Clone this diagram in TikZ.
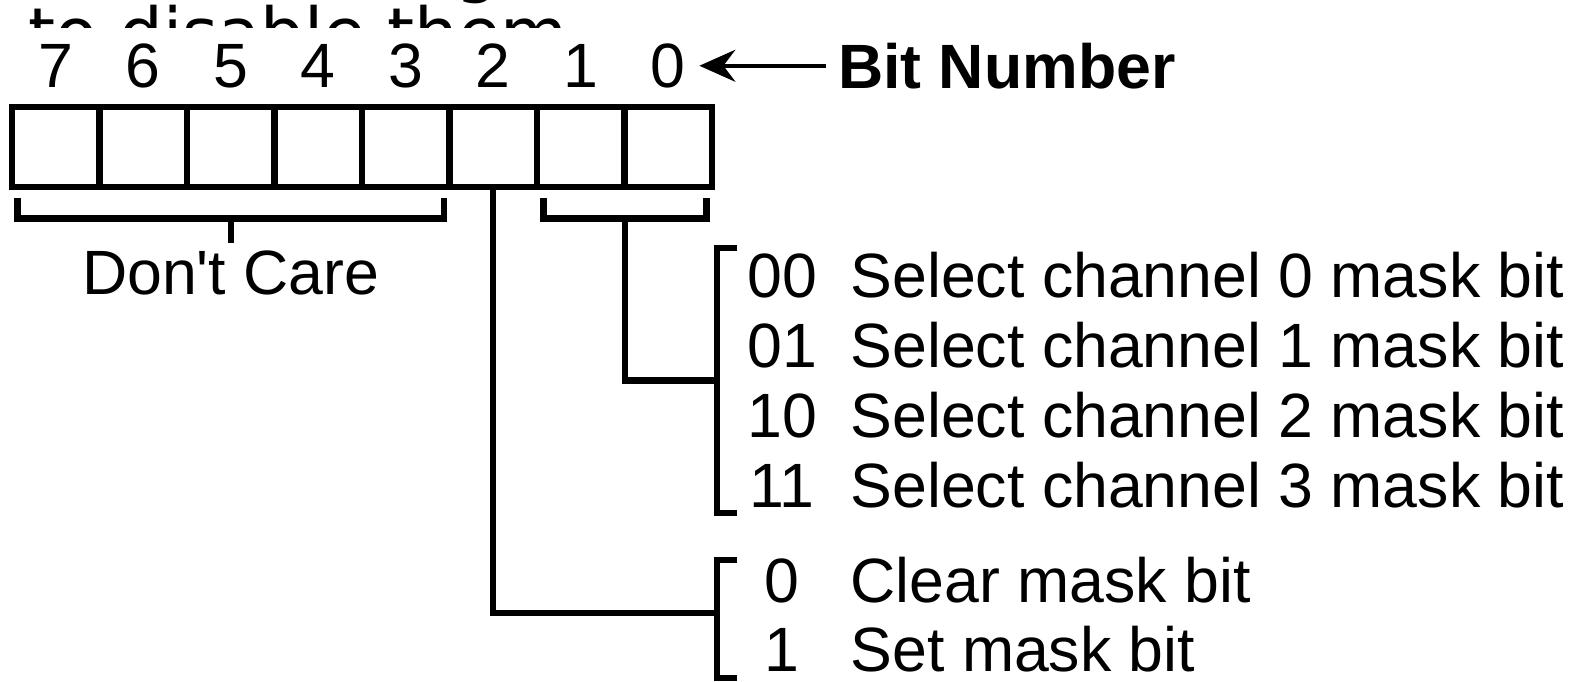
\documentclass[tikz,border=0pt]{standalone}
\usepackage{fontspec}
\setmainfont{Liberation Sans}[Ligatures=TeXOff]
\newfontfamily\pagefont{DejaVu Sans}
\usetikzlibrary{arrows.meta,positioning,calc}
\tikzset{
  regcell/.style={draw=black, line width=1.9pt, minimum width=0.875cm,
                  minimum height=0.8cm, inner sep=0pt},
  lbl/.style={inner sep=0pt, font=\fontsize{17.8}{21}\selectfont},
  lblb/.style={inner sep=0pt, font=\fontsize{17.8}{21}\selectfont\bfseries},
  pgtxt/.style={inner sep=0pt, anchor=base west, font=\pagefont\fontsize{19.6}{23}\selectfont},
  brk/.style={draw=black, line width=1.8pt},
  numarr/.style={-{Stealth[length=3.6mm, width=3.2mm, inset=1.2mm]}, line width=1pt},
}

\begin{document}
\begin{tikzpicture}[x=0.01cm, y=-0.01cm]
  \useasboundingbox (0,0) rectangle (1570,681);
  \begin{scope}
    \clip (0,0) rectangle (1570,27);
    \node[pgtxt] (pgline) at (27.5,57) {to disable them};
    \node[pgtxt] (pgprev) at (455,-11) {g};
  \end{scope}

  \foreach \b in {0,...,7}
    \node[regcell] (c\b) at ({55.75+87.5*(7-\b)},147) {};
  \foreach \b in {0,...,7}
    \node[lbl, above=0.15cm of c\b] (n\b) {\b};
  \node[lblb, right=1.51cm of n0] (bitlbl) {Bit Number};
  \draw[numarr, shorten <=0.11cm, shorten >=0.13cm] (bitlbl.west) -- (n0.east);

  \coordinate (dcL) at ($(c7.south west)+(9,8)$);
  \coordinate (dcR) at ($(c3.south east)+(-9,8)$);
  \draw[brk] (dcL) -- ++(0,20) -| (dcR);
  \coordinate (dcM) at ($(dcL)!0.5!(dcR)+(0,20)$);
  \draw[brk] (dcM) -- ++(0,25) coordinate (dcS);
  \node[lbl, below=0.07cm of dcS] (dontcare) {Don't Care};

  \coordinate (slL) at ($(c1.south west)+(10,8)$);
  \coordinate (slR) at ($(c0.south east)+(-9,8)$);
  \draw[brk] (slL) -- ++(0,20) -| (slR);
  \coordinate (slM) at ($(slL)!0.5!(slR)+(0,20)$);

  \foreach \code/\i in {00/0,01/1,10/2,11/3} {
    \node[lbl, anchor=base] (code\i) at (782,{297+70*\i}) {\code};
    \node[lbl, anchor=base west] (desc\i) at (850,{297+70*\i}) {Select channel \i\ mask bit};
  }
  \coordinate (chT) at (717,248);
  \coordinate (chB) at (717,513);
  \coordinate (chM) at ($(chT)!0.5!(chB)$);
  \draw[brk] ($(chT)+(20,0)$) -- (chT) -- (chB) -- ++(20,0);
  \draw[brk] (slM) |- (chM);

  \node[lbl, anchor=base] (clrcode) at (782,602) {0};
  \node[lbl, anchor=base west] (clrdesc) at (850,602) {Clear mask bit};
  \node[lbl, anchor=base] (setcode) at (782,671) {1};
  \node[lbl, anchor=base west] (setdesc) at (850,671) {Set mask bit};
  \coordinate (mkT) at (717,560);
  \coordinate (mkB) at (717,678);
  \coordinate (mkM) at (717,613);
  \draw[brk] ($(mkT)+(20,0)$) -- (mkT) -- (mkB) -- ++(20,0);
  \draw[brk] (c2.south) |- (mkM);
\end{tikzpicture}
\end{document}
